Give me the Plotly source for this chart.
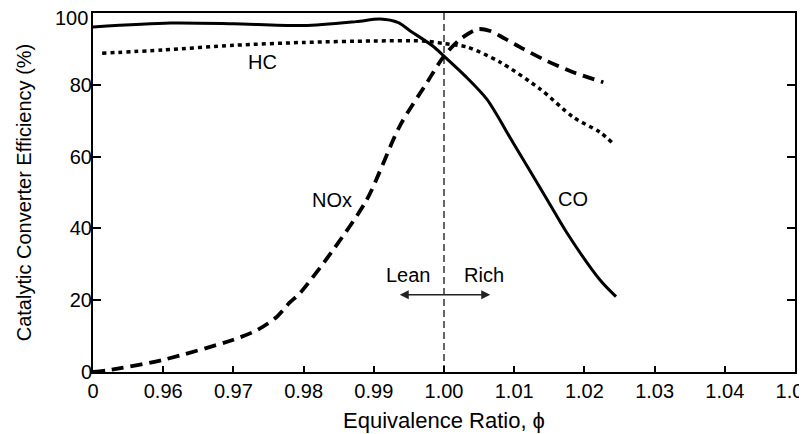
import plotly.graph_objects as go

# CO (solid)
co_phi = [0.95, 0.961, 0.97, 0.98, 0.9875, 0.9909, 0.9935, 0.9952, 0.9984, 1.0, 1.003, 1.0061, 1.0098, 1.0147, 1.0175, 1.0222, 1.0245]
co_eff = [96.1, 97.2, 97.0, 96.5, 97.6, 98.3, 97.3, 95.0, 90.8, 88.0, 82.5, 76.0, 64.0, 48.0, 38.8, 25.7, 21.0]

# HC (dotted)
hc_phi = [0.9513, 0.96, 0.97, 0.98, 0.99, 0.997, 1.0, 1.0033, 1.008, 1.0137, 1.0184, 1.0222, 1.0239]
hc_eff = [88.8, 89.7, 91.0, 91.8, 92.2, 92.2, 91.5, 90.5, 86.3, 78.8, 71.0, 66.8, 64.0]

# NOx (dashed)
nox_phi = [0.95, 0.9525, 0.96, 0.97, 0.9734, 0.9762, 0.978, 0.9795, 0.9842, 0.989, 0.9937, 0.9976, 1.0, 1.0023, 1.0048, 1.0066, 1.008, 1.0113, 1.0147, 1.0184, 1.0227]
nox_eff = [0.0, 0.6, 3.4, 9.0, 11.7, 15.4, 19.3, 22.0, 34.0, 48.0, 68.5, 80.7, 88.0, 92.7, 95.5, 95.0, 93.6, 90.0, 86.6, 83.5, 80.7]

x_tickvals = [0.95, 0.96, 0.97, 0.98, 0.99, 1.00, 1.01, 1.02, 1.03, 1.04, 1.05]
x_ticktext = ["0", "0.96", "0.97", "0.98", "0.99", "1.00", "1.01", "1.02", "1.03", "1.04", "1.05"]
y_tickvals = [0, 20, 40, 60, 80, 100]
y_ticktext = ["0", "20", "40", "60", "80", ""]   # "100" drawn as a nudged label below
y_top_label = "100"

FONT = "Liberation Sans, Arial, sans-serif"

fig = go.Figure()
fig.add_trace(go.Scatter(x=co_phi, y=co_eff, mode="lines", line=dict(color="black", width=3, shape="spline", smoothing=0.8), name="CO"))
fig.add_trace(go.Scatter(x=hc_phi, y=hc_eff, mode="lines", line=dict(color="black", width=3.5, dash="4px,4px", shape="spline", smoothing=0.8), name="HC"))
fig.add_trace(go.Scatter(x=nox_phi, y=nox_eff, mode="lines", line=dict(color="black", width=3.8, dash="12px,7px", shape="spline", smoothing=0.8), name="NOx"))

# stoichiometric line
fig.add_shape(type="line", x0=1.0, x1=1.0, y0=0, y1=100, xref="x", yref="y",
              line=dict(color="black", width=1.2, dash="7px,4px"))

# Lean/Rich arrows
fig.add_annotation(x=0.9937, y=21.5, ax=1.0068, ay=21.5, xref="x", yref="y", axref="x", ayref="y",
                   text="", showarrow=True, arrowhead=2, arrowsize=1.2, arrowwidth=1.5, arrowside="end+start", arrowcolor="#222")

labels = [("HC", 0.9741, 86.3), ("NOx", 0.9840, 48.0), ("CO", 1.0184, 48.3), ("Lean", 0.9949, 27.0), ("Rich", 1.0057, 27.0)]
for t, x, y in labels:
    fig.add_annotation(x=x, y=y, xref="x", yref="y", text=t, showarrow=False,
                       font=dict(family=FONT, size=20, color="black"))

# top tick label, nudged down slightly as in the reference
fig.add_annotation(x=0, y=y_tickvals[-1], xref="paper", yref="y", text=y_top_label, showarrow=False,
                   xanchor="right", yanchor="middle", xshift=-3, yshift=-5,
                   font=dict(family=FONT, size=20, color="black"))

# page body has an 8px margin; size the figure so the plot lands where the reference has it
fig.update_layout(
    width=799, height=426,
    margin=dict(l=85, r=12, t=5, b=62),
    paper_bgcolor="white", plot_bgcolor="white",
    showlegend=False,
    font=dict(family=FONT, size=20, color="black"),
)
fig.update_xaxes(range=[0.95, 1.05], tickvals=x_tickvals, ticktext=x_ticktext,
                 showgrid=False, zeroline=False, showline=True, linecolor="black", linewidth=2,
                 mirror=True, ticks="inside", ticklen=6, tickwidth=1.5, tickcolor="black",
                 automargin=False, ticklabeloverflow="allow", ticklabelstandoff=0,
                 title=dict(text="Equivalence Ratio, ϕ", font=dict(size=22), standoff=12),
                 tickfont=dict(size=20))
fig.update_yaxes(range=[0, 100], tickvals=y_tickvals, ticktext=y_ticktext,
                 showgrid=False, zeroline=False, showline=True, linecolor="black", linewidth=2,
                 mirror="ticks", ticks="inside", ticklen=8, tickwidth=1.5, tickcolor="black",
                 automargin=False, ticklabelstandoff=-5,
                 title=dict(text="Catalytic Converter Efficiency (%)", font=dict(size=20), standoff=33),
                 tickfont=dict(size=20))

fig.write_html("out.html")
